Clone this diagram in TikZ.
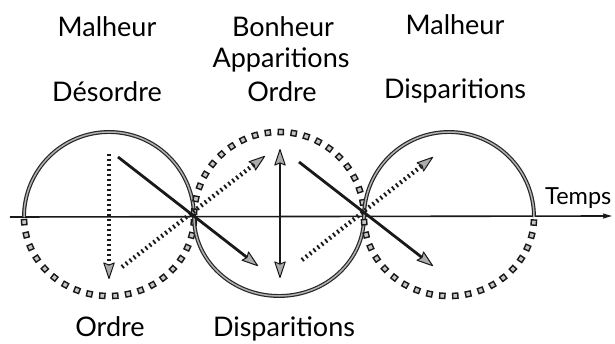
\documentclass[tikz,border=0pt]{standalone}
\usepackage{fontspec}
\setmainfont{Lato}
\usetikzlibrary{arrows.meta,decorations.markings}
\tikzset{
  lbl/.style={anchor=base,inner sep=0pt,font=\fontsize{27}{30}\selectfont},
  solidarc/.style={draw=black!85,double=gray!60,double distance=1.5pt,line width=1.2pt},
  sqnode/.style={draw=black!90,fill=gray!45,line width=1.4pt,minimum size=5.2pt,inner sep=0pt,rectangle,transform shape},
  sqarc/.style={decorate,decoration={markings,
      mark=between positions 0.02 and 0.99 step 13pt with {\node[sqnode]{};}}},
  tipg/.tip={Stealth[length=18pt,width=12pt,inset=2.5pt,line width=1pt,fill=gray!65,round]},
  solidarrow/.style={draw=black!90,line width=2.8pt,-tipg},
  dotarrow/.style={draw=black!90,line width=4.4pt,dash pattern=on 1.8pt off 3.2pt,-tipg},
  axis/.style={draw=black!90,line width=1.6pt,-{Stealth[length=9pt,width=5pt,inset=1pt]}}
}
\begin{document}
\begin{tikzpicture}[x=1pt,y=-1pt]
\useasboundingbox (0,0) rectangle (615,344);
% axis
\coordinate (ax0) at (10,217);
\coordinate (ax1) at (612,216);
\draw[axis] (ax0) -- (ax1);
% circles: left, middle, right (centres 109, 279, 449)
\coordinate (p0) at (24,217);
\coordinate (p1) at (194,217);
\coordinate (p2) at (364,217);
\coordinate (p3) at (534,217);
\draw[solidarc] (p0) arc[start angle=180,end angle=360,x radius=85,y radius=85];
\path[sqarc] (p0) arc[start angle=180,end angle=0,x radius=85,y radius=79];
\path[sqarc] (p1) arc[start angle=180,end angle=360,x radius=85,y radius=85];
\draw[solidarc] (p1) arc[start angle=180,end angle=0,x radius=85,y radius=79];
\draw[solidarc] (p2) arc[start angle=180,end angle=360,x radius=85,y radius=85];
\path[sqarc] (p2) arc[start angle=180,end angle=0,x radius=85,y radius=79];
% arrow end points
\coordinate (v1a) at (109,154);
\coordinate (v1b) at (109,279);
\coordinate (s1a) at (118,157);
\coordinate (s1b) at (258,266);
\coordinate (d1a) at (122,267);
\coordinate (d1b) at (265,156);
\coordinate (v2a) at (280,149);
\coordinate (v2b) at (280,278);
\coordinate (s2a) at (299,162);
\coordinate (s2b) at (433,266);
\coordinate (d2a) at (302,260);
\coordinate (d2b) at (433,157);
\draw[dotarrow] (v1a) -- (v1b);
\draw[solidarrow] (s1a) -- (s1b);
\draw[dotarrow] (d1a) -- (d1b);
\draw[solidarrow,tipg-tipg] (v2a) -- (v2b);
\draw[solidarrow] (s2a) -- (s2b);
\draw[dotarrow] (d2a) -- (d2b);
% labels
\node[lbl] (m1) at (107,37) {Malheur};
\node[lbl] (d1) at (107,102) {Désordre};
\node[lbl] (b2) at (283,37) {Bonheur};
\node[lbl] (a2) at (281,68) {Apparitions};
\node[lbl] (o2) at (282,102) {Ordre};
\node[lbl] (m3) at (455,35) {Malheur};
\node[lbl] (d3) at (455,99) {Disparitions};
\node[lbl] (o1) at (110,336) {Ordre};
\node[lbl] (dp) at (284,336) {Disparitions};
\node[lbl,anchor=base west,font=\fontsize{23.5}{26}\selectfont] (tp) at (545,205) {Temps};
\end{tikzpicture}
\end{document}
